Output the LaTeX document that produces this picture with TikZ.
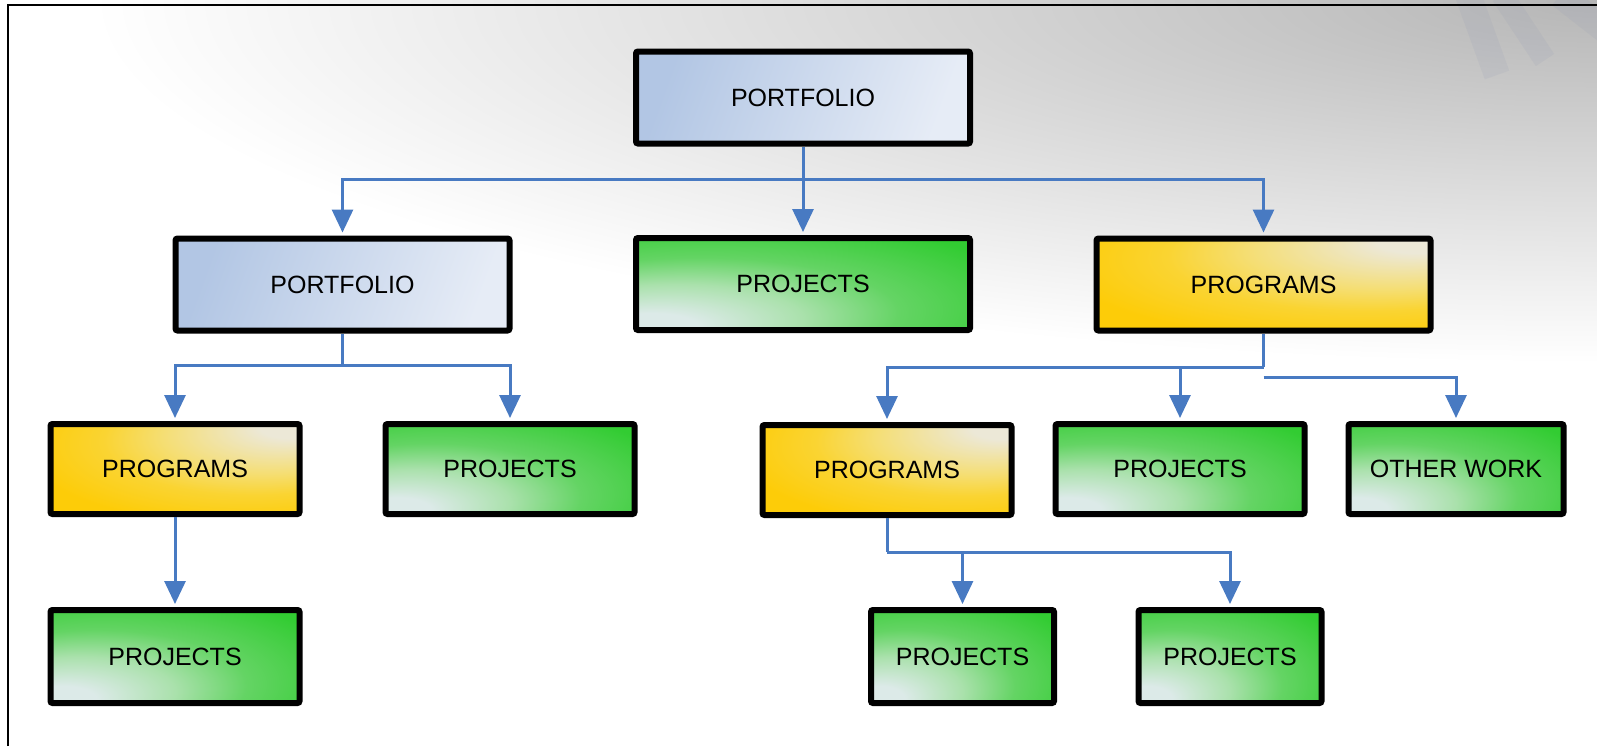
\documentclass[tikz,border=0pt]{standalone}
\usepackage{fontspec}
\setmainfont{Liberation Sans}
\usetikzlibrary{arrows.meta}

\definecolor{linkblue}{RGB}{72,122,194}
\definecolor{pfdark}{RGB}{178,198,228}
\definecolor{pflight}{RGB}{230,236,246}
\definecolor{pjgreen}{RGB}{50,204,50}
\definecolor{pjmid}{RGB}{100,212,100}
\definecolor{pjlight}{RGB}{170,225,172}
\definecolor{pjpale}{RGB}{220,234,232}
\definecolor{pggold}{RGB}{253,204,8}
\definecolor{pgdeep}{RGB}{250,212,50}
\definecolor{pgmid}{RGB}{245,222,115}
\definecolor{pgpale}{RGB}{236,232,215}
\definecolor{bggray}{RGB}{182,182,182}
\definecolor{markgray}{RGB}{140,148,178}

% fills of the boxes
\pgfdeclareradialshading{pjshade}{\pgfpoint{-25bp}{-25bp}}{color(0bp)=(pjpale); color(7bp)=(pjpale);
  color(19bp)=(pjlight); color(30bp)=(pjmid); color(46bp)=(pjgreen); color(80bp)=(pjgreen)}
\pgfdeclareradialshading{pgshade}{\pgfpoint{25bp}{25bp}}{color(0bp)=(pgpale); color(6bp)=(pgpale);
  color(21bp)=(pgmid); color(30bp)=(pgdeep); color(42bp)=(pggold); color(80bp)=(pggold)}

\tikzset{
  box/.style={draw=black, line width=3pt, rounded corners=1pt, inner sep=0pt,
    font=\fontsize{12.5}{15}\selectfont, text=black},
  pfbox/.style={box, top color=pfdark, bottom color=pflight, shading angle=70},
  pjbox/.style={box, shade, shading=pjshade},
  pgbox/.style={box, shade, shading=pgshade},
  bigsize/.style={minimum width=167pt, minimum height=46pt},
  midsize/.style={minimum width=124.5pt, minimum height=45pt},
  smallsize/.style={minimum width=91.5pt, minimum height=46.5pt},
  bus/.style={draw=linkblue, line width=1.5pt},
  link/.style={bus, -{Triangle[width=10.5pt,length=11.5pt]}, shorten >=1.5pt}
}

\begin{document}
\begin{tikzpicture}[x=0.5pt, y=-0.5pt]
  \useasboundingbox (0,0) rectangle (1597,746);
  % background and frame
  \fill[white] (0,0) rectangle (1597,746);
  \begin{scope}
    \clip (0,0) rectangle (1597,746);
    \shade[inner color=bggray, outer color=white] (91,-363) rectangle (3103,363);
  \end{scope}
  \draw[markgray, opacity=.12, line width=13pt] (1468,-5) -- (1497,75);
  \draw[markgray, opacity=.12, line width=11pt] (1502,-5) -- (1545,60);
  \draw[markgray, opacity=.12, line width=13pt] (1560,-5) -- (1605,30);
  \draw[line width=1pt] (8,746) -- (8,5) -- (1597,5);

  % boxes
  \node[pfbox, bigsize] (pfTop) at (803,97.5) {PORTFOLIO};
  \node[pfbox, bigsize] (pfA) at (342.5,284.5) {PORTFOLIO};
  \node[pjbox, bigsize] (pjA) at (803,284) {PROJECTS};
  \node[pgbox, bigsize] (pgA) at (1263.5,284.5) {PROGRAMS};
  \node[pgbox, midsize] (pgB) at (175,469) {PROGRAMS};
  \node[pjbox, midsize] (pjB) at (510,469) {PROJECTS};
  \node[pgbox, midsize] (pgC) at (887,470) {PROGRAMS};
  \node[pjbox, midsize] (pjC) at (1180,469) {PROJECTS};
  \node[pjbox, midsize, minimum width=107.5pt] (owA) at (1456,469) {OTHER WORK};
  \node[pjbox, midsize, minimum height=46.5pt] (pjD) at (175,656.5) {PROJECTS};
  \node[pjbox, smallsize] (pjE) at (962.5,656.5) {PROJECTS};
  \node[pjbox, smallsize] (pjF) at (1230,656.5) {PROJECTS};

  % connectors
  \coordinate (busTop) at (803,179);
  \draw[link] (pfTop) -- (pjA);
  \draw[link] (busTop) -| (pfA);
  \draw[link] (busTop) -| (pgA);

  \coordinate (busA) at (342.5,365);
  \draw[bus] (pfA) -- (busA);
  \draw[link] (busA) -| (pgB);
  \draw[link] (busA) -| (pjB);
  \draw[link] (pgB) -- (pjD);

  \coordinate (busB) at (1263.5,367);
  \coordinate (busC) at (1263.5,377);
  \draw[bus] (pgA) -- (busB);
  \draw[link] (busB) -| (pgC);
  \draw[link] (busB) -| (pjC);
  \draw[link] (busC) -| (owA);

  \coordinate (busD) at (887,552);
  \draw[bus] (pgC) -- (busD);
  \draw[link] (busD) -| (pjE);
  \draw[link] (busD) -| (pjF);
\end{tikzpicture}
\end{document}
